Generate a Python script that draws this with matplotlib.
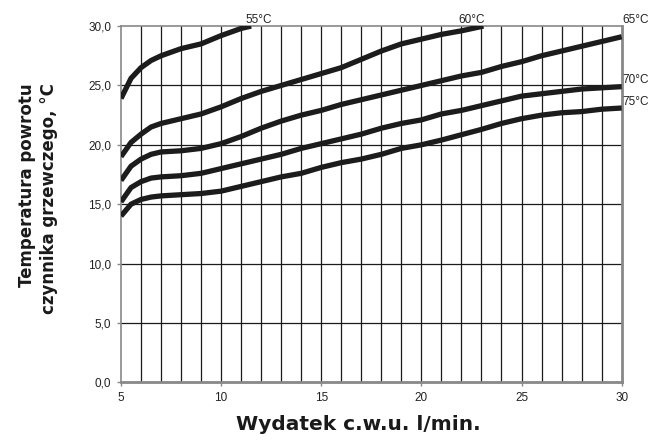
import numpy as np
import matplotlib
matplotlib.use("Agg")
import matplotlib.pyplot as plt

# data -----------------------------------------------------------------
x_55 = [5, 5.5, 6, 6.5, 7, 8, 9, 10, 11, 11.5]
y_55 = [23.9, 25.6, 26.5, 27.1, 27.5, 28.1, 28.5, 29.2, 29.8, 30.0]

x_60 = [5, 5.5, 6, 6.5, 7, 8, 9, 10, 11, 12, 13, 14, 15, 16, 17, 18, 19, 20, 21, 22, 23.1]
y_60 = [19.0, 20.2, 20.9, 21.5, 21.8, 22.2, 22.6, 23.2, 23.9, 24.5, 25.0, 25.5,
        26.0, 26.5, 27.2, 27.9, 28.5, 28.9, 29.3, 29.6, 30.0]

x_full = [5, 5.5, 6, 6.5, 7] + list(range(8, 31))
y_65 = [17.0, 18.2, 18.8, 19.2, 19.4, 19.5, 19.7, 20.1, 20.7, 21.4, 22.0, 22.5,
        22.9, 23.4, 23.8, 24.2, 24.6, 25.0, 25.4, 25.8, 26.1, 26.6, 27.0, 27.5,
        27.9, 28.3, 28.7, 29.1]
y_70 = [15.2, 16.4, 16.9, 17.2, 17.3, 17.4, 17.6, 18.0, 18.4, 18.8, 19.2, 19.7,
        20.1, 20.5, 20.9, 21.4, 21.8, 22.1, 22.6, 22.9, 23.3, 23.7, 24.1, 24.3,
        24.5, 24.7, 24.8, 24.9]
y_75 = [14.0, 15.0, 15.4, 15.6, 15.7, 15.8, 15.9, 16.1, 16.5, 16.9, 17.3, 17.6,
        18.1, 18.5, 18.8, 19.2, 19.7, 20.0, 20.4, 20.85, 21.3, 21.8, 22.2, 22.5,
        22.7, 22.8, 23.0, 23.1]

curve_labels = ["55°C", "60°C", "65°C", "70°C", "75°C"]
label_pos = [(11.9, 30.0), (22.5, 30.0), (30.05, 30.5), (30.05, 25.45), (30.05, 23.6)]

y_ticks = [0, 5, 10, 15, 20, 25, 30]
y_ticklabels = ["0,0", "5,0", "10,0", "15,0", "20,0", "25,0", "30,0"]
x_ticks = [5, 10, 15, 20, 25, 30]

# figure -----------------------------------------------------------------
fig = plt.figure(figsize=(6.67, 4.42), dpi=100)
ax = fig.add_axes([0.1814, 0.135, 0.7506, 0.806])

ax.set_xlim(5, 30)
ax.set_ylim(0, 30)

# grid: every 1 on x, every 5 on y
for xv in range(6, 30):
    ax.axvline(xv, color="#1a1a1a", lw=0.9, zorder=1)
for yv in y_ticks[1:-1]:
    ax.axhline(yv, color="#1a1a1a", lw=0.9, zorder=1)

for xs, ys in [(x_55, y_55), (x_60, y_60), (x_full, y_65), (x_full, y_70), (x_full, y_75)]:
    ax.plot(xs, ys, color="#1c1c1c", lw=3.8, solid_capstyle="butt",
            solid_joinstyle="round", zorder=3)

for lab, (lx, ly) in zip(curve_labels, label_pos):
    if lx < 30:
        ax.text(lx, ly, lab, ha="center", va="bottom", fontsize=8.5,
                family="Liberation Sans", color="#222222", clip_on=False)
    else:
        ax.text(lx, ly, lab, ha="left", va="center", fontsize=8.5,
                family="Liberation Sans", color="#222222", clip_on=False)

ax.set_xticks(x_ticks)
ax.set_xticklabels([str(v) for v in x_ticks], family="Liberation Sans", fontsize=8.5,
                   color="#222222")
ax.set_yticks(y_ticks)
ax.set_yticklabels(y_ticklabels, family="Liberation Sans", fontsize=8.5, color="#222222")
ax.tick_params(axis="both", length=3, width=1, color="#888888", pad=4)

for side in ["left", "top"]:
    ax.spines[side].set_color("#888888")
    ax.spines[side].set_linewidth(1.2)
for side in ["bottom", "right"]:
    ax.spines[side].set_color("#888888")
    ax.spines[side].set_linewidth(2.0)

fig.text(358 / 667, 1 - 425 / 442, "Wydatek c.w.u. l/min.", ha="center", va="center",
         fontsize=14.5, fontweight="bold", family="DejaVu Sans", color="#1a1a1a")
fig.text(38 / 667, 1 - 83 / 442, "Temperatura powrotu\nczynnika grzewczego, °C",
         rotation=90, ha="center", va="top", multialignment="right",
         fontsize=12, fontweight="bold", family="DejaVu Sans", color="#1a1a1a",
         linespacing=1.25)

fig.savefig("out.png", dpi=100)
